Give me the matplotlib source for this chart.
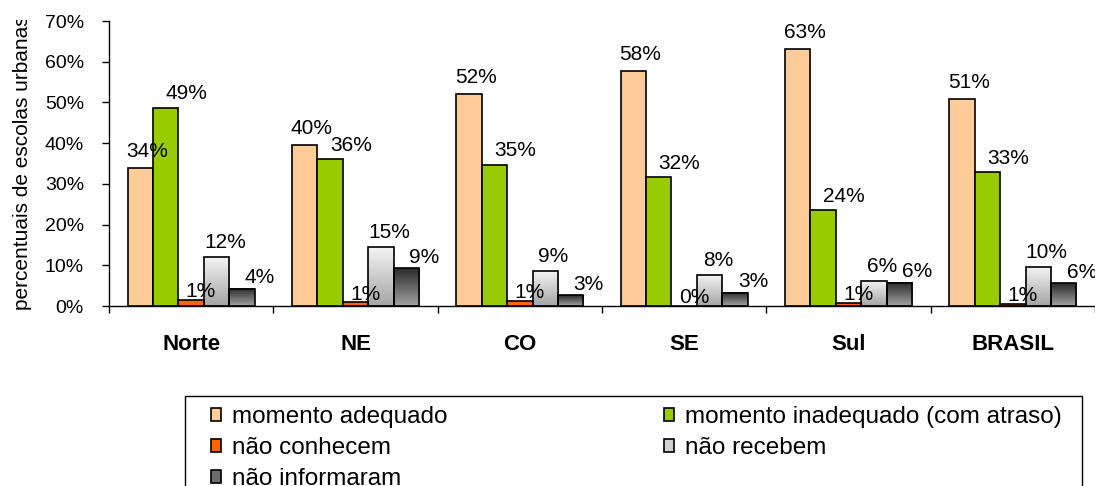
import numpy as np
import matplotlib
matplotlib.use('Agg')
import matplotlib.pyplot as plt
from matplotlib.colors import LinearSegmentedColormap
from matplotlib.patches import Rectangle, Patch
from matplotlib.transforms import Bbox, TransformedBbox

plt.rcParams['font.family'] = ['Liberation Sans', 'DejaVu Sans']

# dados (percentuais de escolas urbanas)
regioes = ['Norte', 'NE', 'CO', 'SE', 'Sul', 'BRASIL']
adequado = [33.9, 39.6, 52.0, 57.6, 63.1, 50.9]
inadequado = [48.7, 36.0, 34.7, 31.6, 23.6, 32.8]
nao_conhecem = [1.4, 0.9, 1.3, 0.0, 0.8, 0.6]
nao_recebem = [12.1, 14.6, 8.7, 7.7, 6.2, 9.7]
nao_informaram = [4.2, 9.3, 2.6, 3.3, 5.7, 5.6]
legendas = ['momento adequado', 'momento inadequado (com atraso)',
            'não conhecem', 'não recebem', 'não informaram']

series = [adequado, inadequado, nao_conhecem, nao_recebem, nao_informaram]
cores = ['#FFCC99', '#99CC00', '#FF6600', '#d2d2d2', '#6e6e6e']
# gradientes (base -> topo) para as barras cinzas
gradientes = {3: ('#a4a4a4', '#f6f6f6'), 4: ('#a2a2a2', '#2a2a2a')}
# deslocamento dos rotulos (pt)
dx = [5, 15, 7, 6, 13]
dy = [12, 10, 6, 10, 8]

fig = plt.figure(figsize=(10.95, 4.86), dpi=100)
ax = fig.add_axes([109 / 1095, 1 - 306 / 486, 1 - 109 / 1095, 285 / 486])

x = np.arange(len(regioes))
w = 0.1545
grad = np.linspace(0, 1, 256).reshape(-1, 1)
for i, vals in enumerate(series):
    pos = x + (i - 2) * w
    if i in gradientes:
        cmap = LinearSegmentedColormap.from_list('g%d' % i, gradientes[i])
        for p, v in zip(pos, vals):
            ax.imshow(grad, extent=(p - w / 2, p + w / 2, 0, v), origin='lower',
                      cmap=cmap, aspect='auto', zorder=2)
        ax.bar(pos, vals, w, facecolor='none', edgecolor='black', linewidth=1.2, zorder=3)
    else:
        ax.bar(pos, vals, w, color=cores[i], edgecolor='black', linewidth=1.2, zorder=3)
    for p, v in zip(pos, vals):
        ax.annotate(f'{v:.0f}%', (p, v), xytext=(dx[i], dy[i]), textcoords='offset points',
                    ha='center', va='center', fontsize=15, zorder=4)

ax.set_xlim(-0.5, 5.5)
ax.set_ylim(0, 70)
ax.set_yticks(range(0, 71, 10))
ax.set_yticklabels([f'{t}%' for t in range(0, 71, 10)], fontsize=14)
ax.set_xticks(x)
ax.set_xticklabels(regioes, fontsize=16, fontweight='bold')
ax.set_xticks(np.arange(-0.5, 6, 1), minor=True)
ax.tick_params(axis='x', which='major', length=0, pad=20)
ax.tick_params(axis='x', which='minor', length=5, width=1, direction='out')
ax.tick_params(axis='y', length=5, width=1, direction='out', pad=13)
for s in ['top', 'right']:
    ax.spines[s].set_visible(False)
for s in ['left', 'bottom']:
    ax.spines[s].set_linewidth(1)

t = fig.text(23 / 1095, 1 - 163 / 486, 'percentuais de escolas urbanas', rotation=90,
             ha='center', va='center', fontsize=15)
t.set_clip_box(TransformedBbox(Bbox([[0, 0], [1, 1 - 20 / 486]]), fig.transFigure))
t.set_clip_on(True)

# caixa da legenda (cortada na base da figura)
fig.add_artist(Rectangle((185 / 1095, -0.1), (1082 - 185) / 1095, 0.1 + 1 - 396 / 486,
                         transform=fig.transFigure, fill=False, edgecolor='black', linewidth=1))
handles = [Patch(facecolor=c, edgecolor='black', linewidth=1.2) for c in cores]
ordem = [0, 2, 4, 1, 3]
fig.legend([handles[k] for k in ordem], [legendas[k] for k in ordem], ncol=2,
           loc='upper left', bbox_to_anchor=(211 / 1095, 1 - 406 / 486), frameon=False,
           fontsize=17.5, handlelength=0.42, handleheight=0.45, handletextpad=0.45,
           columnspacing=8.9, labelspacing=0.38, borderpad=0, borderaxespad=0)

fig.savefig('out.png', dpi=100)
